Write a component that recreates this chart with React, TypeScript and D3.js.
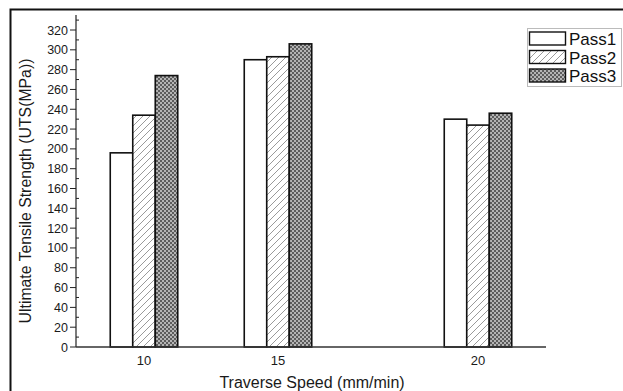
import React, { useEffect, useRef } from "react";
import * as d3 from "d3";

const categories = [10, 15, 20];
const series = ["Pass1", "Pass2", "Pass3"];
const pass1 = [196, 290, 230];
const pass2 = [234, 293, 224];
const pass3 = [274, 306, 236];
const yTicks = d3.range(0, 321, 20);
const yMinor = d3.range(10, 331, 20);

const W = 623;
const H = 391;

export default function App() {
  const ref = useRef<SVGSVGElement | null>(null);

  useEffect(() => {
    const svg = d3.select(ref.current);
    svg.selectAll("*").remove();
    const font = "'Liberation Sans', Arial, sans-serif";

    const defs = svg.append("defs");
    const p2 = defs.append("pattern").attr("id", "hatch").attr("patternUnits", "userSpaceOnUse")
      .attr("width", 7).attr("height", 7);
    p2.append("rect").attr("width", 7).attr("height", 7).attr("fill", "#fff");
    p2.append("path").attr("d", "M-1,8 L8,-1 M-2,2 L2,-2 M5,9 L9,5").attr("stroke", "#9a9a9a").attr("stroke-width", 1);
    const p3 = defs.append("pattern").attr("id", "cross").attr("patternUnits", "userSpaceOnUse")
      .attr("width", 4).attr("height", 4);
    p3.append("rect").attr("width", 4).attr("height", 4).attr("fill", "#b4b4b4");
    p3.append("rect").attr("width", 2).attr("height", 2).attr("fill", "#5c5c5c");
    p3.append("rect").attr("x", 2).attr("y", 2).attr("width", 2).attr("height", 2).attr("fill", "#5c5c5c");
    const fills = ["#fff", "url(#hatch)", "url(#cross)"];

    // outer frame
    svg.append("rect").attr("x", 10.5).attr("y", 9.5).attr("width", 640).attr("height", 420)
      .attr("fill", "none").attr("stroke", "#111").attr("stroke-width", 2);

    const y = d3.scaleLinear().domain([0, 320]).range([347, 30]);
    const x = d3.scaleLinear().domain(categories).range([144, 278, 478]);
    const x0 = 76, x1 = 546;
    const bw = 22.5;

    const data = [pass1, pass2, pass3];
    data.forEach((vals, si) => {
      svg.append("g").selectAll("rect").data(vals).enter().append("rect")
        .attr("x", (d, i) => x(categories[i]) + (si - 1.5) * bw)
        .attr("y", (d) => y(d))
        .attr("width", bw)
        .attr("height", (d) => y(0) - y(d))
        .attr("fill", fills[si])
        .attr("stroke", "#111")
        .attr("stroke-width", 1.6);
    });

    // y axis
    const g = svg.append("g").attr("font-family", font);
    g.append("line").attr("x1", x0).attr("x2", x0).attr("y1", 15).attr("y2", y(0))
      .attr("stroke", "#222").attr("stroke-width", 1.2);
    g.selectAll(".maj").data(yTicks).enter().append("line")
      .attr("x1", x0 - 6).attr("x2", x0).attr("y1", (d) => y(d)).attr("y2", (d) => y(d))
      .attr("stroke", "#222").attr("stroke-width", 1);
    g.selectAll(".min").data(yMinor).enter().append("line")
      .attr("x1", x0).attr("x2", x0 + 3).attr("y1", (d) => y(d)).attr("y2", (d) => y(d))
      .attr("stroke", "#222").attr("stroke-width", 1);
    g.selectAll(".lab").data(yTicks).enter().append("text")
      .attr("x", x0 - 8).attr("y", (d) => y(d)).attr("dy", "0.36em")
      .attr("text-anchor", "end").attr("font-size", 12.5).attr("fill", "#1a1a1a")
      .text((d) => d);

    // x axis
    g.append("line").attr("x1", x0).attr("x2", x1).attr("y1", y(0)).attr("y2", y(0))
      .attr("stroke", "#333").attr("stroke-width", 1.5);
    g.selectAll(".xl").data(categories).enter().append("text")
      .attr("x", (d) => x(d)).attr("y", 365).attr("text-anchor", "middle")
      .attr("font-size", 13).attr("fill", "#1a1a1a").text((d) => d);

    g.append("text").attr("x", 312).attr("y", 388).attr("text-anchor", "middle")
      .attr("font-size", 16).attr("fill", "#1a1a1a").text("Traverse Speed (mm/min)");
    g.append("text").attr("transform", "translate(31,191) rotate(-90)").attr("text-anchor", "middle")
      .attr("font-size", 15.8).attr("fill", "#1a1a1a").text("Ultimate Tensile Strength (UTS(MPa))");

    // legend
    const lg = svg.append("g").attr("font-family", font);
    lg.append("rect").attr("x", 527.5).attr("y", 28.5).attr("width", 94).attr("height", 58)
      .attr("fill", "#fff").attr("stroke", "#bbb").attr("stroke-width", 1);
    series.forEach((s, i) => {
      const yy = 32 + i * 18.5;
      lg.append("rect").attr("x", 529.5).attr("y", yy).attr("width", 36).attr("height", 13)
        .attr("fill", fills[i]).attr("stroke", "#111").attr("stroke-width", 1.4);
      lg.append("text").attr("x", 569).attr("y", yy + 7).attr("dy", "0.36em")
        .attr("font-size", 17).attr("fill", "#111").text(s);
    });
  }, []);

  return (
    <svg ref={ref} width={W} height={H}
      style={{ position: "absolute", left: 0, top: 0, background: "#fff" }} />
  );
}
